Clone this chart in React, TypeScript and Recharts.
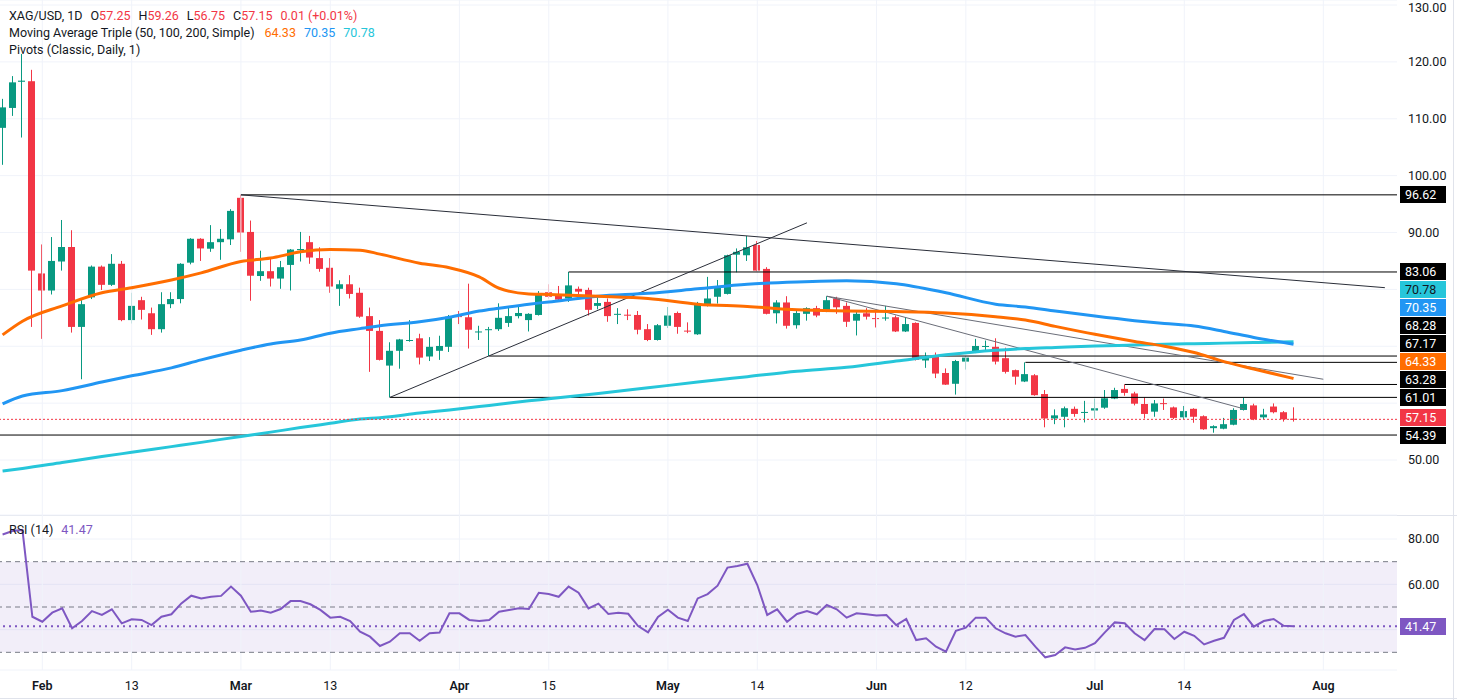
import React from 'react'
import {
  ComposedChart,
  Bar,
  Line,
  XAxis,
  YAxis,
  CartesianGrid,
  ReferenceLine,
  ReferenceArea,
} from 'recharts'

const FONT = 'Roboto, "Noto Sans", sans-serif'
const UP = '#089981'
const DOWN = '#f23645'
const TEXT = '#131722'
const GRID = '#f0f3fa'
const MA50_COLOR = '#ff6d00'
const MA100_COLOR = '#2196f3'
const MA200_COLOR = '#26c6da'
const RSI_COLOR = '#7e57c2'

// daily sessions, Jan 27 .. Jul 29
const OPEN = [
  108.4, 111.9, 116.5, 116.6, 82.8, 79.8, 84.9, 87.45, 73.4, 78.6,
  84.0, 80.8, 84.5, 74.6, 78.1, 75.8, 73.0, 77.4, 78.3, 84.7,
  88.9, 87.15, 88.3, 88.8, 96.1, 90.1, 82.35, 83.2, 81.9, 84.3,
  86.9, 88.3, 85.5, 83.8, 80.1, 80.9, 79.4, 75.3, 72.7, 66.6,
  69.2, 71.0, 71.4, 68.2, 69.2, 69.9, 75.3, 75.1, 72.5, 72.9,
  73.0, 74.1, 75.3, 74.6, 75.5, 79.5, 79.0, 78.4, 80.1, 79.9,
  77.1, 77.8, 75.6, 75.55, 75.5, 73.0, 71.1, 73.6, 75.85, 72.75,
  72.1, 77.2, 78.7, 79.2, 86.1, 86.0, 87.8, 83.6, 75.8, 77.7,
  73.7, 75.7, 76.7, 76.2, 78.4, 77.1, 74.5, 75.8, 74.95, 74.9,
  75.1, 72.6, 74.1, 67.5, 68.3, 65.3, 63.4, 67.3, 69.05, 69.95,
  69.9, 67.9, 65.8, 63.8, 64.9, 61.6, 57.3, 57.6, 59.0, 58.3,
  58.7, 59.2, 60.8, 62.5, 61.7, 59.85, 58.5, 60.0, 59.25, 57.5,
  59.0, 57.7, 55.6, 55.5, 56.2, 58.8, 59.6, 57.5, 59.4, 58.4,
  57.25,
]
const HIGH = [
  113.5, 117.5, 121.4, 118.6, 87.9, 89.2, 92.2, 90.4, 78.1, 84.2,
  84.2, 86.2, 85.0, 79.4, 78.7, 76.8, 79.5, 79.5, 84.6, 89.0,
  89.0, 91.3, 90.6, 94.1, 96.62, 92.1, 86.8, 85.5, 85.0, 87.1,
  90.1, 89.4, 87.4, 85.5, 81.6, 82.5, 80.3, 76.8, 74.6, 70.7,
  71.3, 74.6, 72.2, 71.6, 71.85, 75.5, 76.2, 81.0, 73.6, 73.4,
  77.55, 76.9, 77.0, 75.8, 79.7, 80.9, 80.6, 83.06, 80.5, 80.3,
  78.6, 78.4, 76.7, 76.5, 76.2, 73.9, 73.9, 76.9, 76.1, 74.2,
  77.8, 82.2, 81.65, 86.1, 87.2, 89.4, 88.5, 83.9, 78.1, 78.8,
  76.5, 76.85, 77.1, 78.8, 78.7, 77.7, 76.1, 76.7, 76.25, 77.1,
  75.4, 75.1, 74.2, 68.9, 68.9, 66.1, 67.6, 68.3, 71.3, 71.0,
  71.4, 69.75, 65.9, 67.17, 65.1, 62.3, 58.9, 59.4, 59.4, 60.4,
  60.8, 62.3, 62.7, 63.28, 62.0, 61.0, 60.55, 60.8, 59.4, 59.5,
  59.1, 57.85, 56.1, 57.4, 59.1, 60.9, 59.9, 59.0, 59.95, 58.6,
  59.26,
]
const LOW = [
  101.9, 110.5, 106.7, 73.4, 71.3, 79.1, 83.3, 72.4, 64.2, 78.3,
  79.9, 80.6, 74.4, 74.0, 74.7, 72.0, 72.4, 76.7, 77.55, 84.4,
  85.0, 86.6, 85.2, 87.8, 86.6, 78.0, 81.5, 80.5, 80.1, 79.8,
  84.9, 84.5, 83.1, 79.4, 77.1, 78.4, 75.0, 65.5, 67.5, 61.01,
  66.05, 70.8, 66.8, 67.4, 67.6, 69.0, 73.9, 69.6, 71.1, 68.28,
  72.7, 73.4, 74.9, 72.6, 75.4, 78.4, 78.1, 77.8, 79.1, 75.4,
  76.5, 74.3, 73.9, 74.6, 72.1, 70.9, 71.0, 73.2, 72.2, 72.3,
  72.0, 77.0, 77.5, 79.1, 83.0, 85.0, 83.2, 75.6, 74.0, 73.1,
  73.1, 74.5, 75.1, 76.0, 75.7, 73.4, 71.9, 74.7, 73.3, 74.5,
  72.5, 72.5, 67.5, 66.2, 64.4, 63.2, 61.5, 65.9, 68.8, 69.2,
  66.8, 65.2, 63.25, 63.7, 61.3, 55.75, 56.3, 55.75, 57.6, 56.6,
  57.3, 59.0, 60.7, 61.3, 59.6, 57.3, 57.6, 58.8, 57.2, 57.15,
  56.55, 55.3, 54.8, 55.4, 56.1, 58.7, 57.0, 57.15, 58.2, 56.75,
  56.75,
]
const CLOSE = [
  112.0, 116.4, 116.7, 83.3, 79.8, 85.0, 87.45, 73.4, 77.4, 84.0,
  80.8, 84.5, 74.6, 77.1, 76.4, 73.0, 77.4, 78.3, 84.5, 88.9,
  87.2, 88.3, 88.9, 93.8, 90.0, 82.4, 83.2, 81.9, 83.9, 87.0,
  87.1, 85.6, 83.6, 80.5, 80.9, 79.2, 75.2, 72.7, 67.6, 69.2,
  71.2, 71.1, 68.0, 69.9, 70.05, 75.2, 75.2, 72.9, 72.6, 73.0,
  75.0, 75.3, 75.85, 75.7, 79.2, 78.7, 78.2, 80.7, 79.6, 76.4,
  77.6, 75.3, 75.7, 75.45, 72.9, 71.1, 73.7, 75.4, 73.4, 72.65,
  77.55, 78.4, 80.5, 86.0, 86.6, 87.4, 83.3, 75.7, 77.7, 73.6,
  75.85, 76.7, 75.4, 78.1, 76.85, 74.3, 75.7, 75.2, 74.85, 75.05,
  72.6, 73.9, 67.6, 68.2, 65.2, 63.25, 67.4, 68.0, 70.05, 70.05,
  67.3, 65.5, 64.65, 65.1, 61.4, 57.3, 57.85, 59.1, 58.1, 58.45,
  59.1, 60.85, 62.3, 61.8, 59.9, 58.1, 59.95, 59.9, 57.4, 58.6,
  57.6, 55.4, 55.95, 56.3, 58.8, 59.85, 57.15, 58.0, 58.4, 57.14,
  57.15,
]
const RSI = [
  82.0, 83.5, 84.0, 45.7, 43.5, 47.5, 49.4, 40.6, 43.8, 48.2,
  46.5, 49.0, 42.8, 44.6, 44.3, 42.0, 45.7, 46.8, 51.6, 55.0,
  53.8, 54.5, 54.9, 59.0, 55.0, 47.9, 48.4, 47.5, 49.1, 52.6,
  52.6, 51.2, 48.7, 45.3, 45.7, 43.8, 39.1, 36.9, 32.8, 34.7,
  38.4, 38.4, 35.1, 38.4, 38.7, 47.2, 47.2, 44.3, 43.8, 44.3,
  47.9, 48.7, 49.4, 49.1, 56.3, 55.7, 54.5, 59.0, 56.3, 49.4,
  51.5, 46.9, 47.5, 47.0, 41.6, 38.8, 45.6, 48.8, 45.3, 43.8,
  53.8, 55.7, 59.4, 67.4, 68.1, 69.1, 59.7, 46.5, 49.0, 43.5,
  46.9, 48.2, 46.8, 50.9, 49.0, 45.3, 47.2, 46.8, 46.2, 46.5,
  42.0, 44.7, 35.4, 36.2, 32.5, 30.3, 39.5, 40.9, 45.3, 45.3,
  40.6, 38.4, 36.9, 37.6, 32.5, 27.8, 28.8, 32.2, 31.3, 32.0,
  34.0, 38.8, 43.2, 42.8, 38.4, 35.4, 40.3, 40.2, 35.9, 39.1,
  37.3, 33.5, 35.1, 36.4, 44.3, 46.9, 41.3, 43.8, 44.7, 41.7,
  41.47,
]

// moving averages, sampled at these sessions
const MA_AT = [
  0, 2, 6, 10, 13, 17, 20, 24, 27, 30, 33, 36, 38, 42, 45, 48, 50, 53, 55,
  60, 65, 70, 75, 80, 85, 90, 95, 100, 103, 106, 110, 114, 117, 120, 123, 126, 130,
]
const MA50 = [
  72.0, 74.4, 77.1, 79.4, 80.3, 81.65, 82.9, 84.9, 85.5, 86.6, 87.0, 86.9, 86.2,
  84.6, 83.8, 82.2, 80.2, 79.2, 79.1, 78.8, 78.4, 77.4, 77.0, 76.4, 76.2, 76.1,
  75.85, 75.2, 74.6, 73.5, 72.1, 70.85, 70.0, 68.9, 67.3, 66.0, 64.33,
]
const MA100 = [
  59.85, 61.25, 62.2, 63.7, 64.8, 66.2, 67.6, 69.3, 70.4, 71.1, 72.3, 73.1, 73.6,
  74.3, 75.1, 76.2, 76.7, 77.4, 77.8, 78.8, 79.3, 80.1, 80.9, 81.3, 81.5, 81.0,
  79.4, 77.4, 76.9, 76.2, 75.3, 74.5, 74.0, 73.55, 72.6, 71.55, 70.35,
]
const MA200 = [
  48.05, 48.5, 49.55, 50.6, 51.35, 52.35, 53.1, 54.15, 54.9, 55.7, 56.45, 57.2,
  57.45, 58.25, 58.8, 59.4, 59.8, 60.4, 60.75, 61.7, 62.7, 63.7, 64.65, 65.6,
  66.3, 67.4, 68.5, 69.3, 69.6, 69.8, 70.05, 70.2, 70.35, 70.45, 70.55, 70.65,
  70.78,
]

const TICK_IDX = [4, 13, 24, 33, 46, 55, 67, 76, 88, 97, 110, 119, 133]
const TICK_LABELS = ['Feb', '13', 'Mar', '13', 'Apr', '15', 'May', '14', 'Jun', '12', 'Jul', '14', 'Aug']
const MONTHS = ['Feb', 'Mar', 'Apr', 'May', 'Jun', 'Jul', 'Aug']

const PRICE_TICKS = [50, 60, 70, 80, 90, 100, 110, 120, 130]
// these scale labels sit under the price tags, so only their grid lines show
const PRICE_TICKS_COVERED = [60, 70, 80]
const RSI_TICKS = [40, 60, 80]

// swing levels drawn from the session that set them out to the right edge
const LEVELS = [
  { from: 24, price: 96.62 },
  { from: 57, price: 83.06 },
  { from: 49, price: 68.28 },
  { from: 103, price: 67.17 },
  { from: 113, price: 63.28 },
  { from: 39, price: 61.01 },
  { from: -1, price: 54.39 },
]
// trend lines: start index/price to end index/price
const TRENDS = [
  { x1: 24, y1: 96.62, x2: 139.2, y2: 80.3, color: '#2a2e39' },
  { x1: 39, y1: 61.01, x2: 81, y2: 91.7, color: '#2a2e39' },
  { x1: 83, y1: 78.8, x2: 125, y2: 59.0, color: '#6a6d78' },
  { x1: 83, y1: 78.8, x2: 133, y2: 64.2, color: '#6a6d78' },
]

const LAST_PRICE = 57.15
const LAST_RSI = 41.47

const X_MIN = -0.26
const X_MAX = 140.42
const Y_MIN = 40.33
const Y_MAX = 130.88
const RSI_MIN = 22.2
const RSI_MAX = 90.6

const W = 1457
const MAIN_H = 515
const RSI_H = 185
const AXIS_W = 60

type Row = {
  i: number
  open: number
  high: number
  low: number
  close: number
  range: [number, number]
  rsi: number
}

const rows: Row[] = OPEN.map((o, i) => ({
  i,
  open: o,
  high: HIGH[i],
  low: LOW[i],
  close: CLOSE[i],
  range: [LOW[i], HIGH[i]],
  rsi: RSI[i],
}))

const maRows = MA_AT.map((i, k) => ({ i, ma50: MA50[k], ma100: MA100[k], ma200: MA200[k] }))

function Candle(props: any) {
  const { x, y, width, height, payload } = props
  if (!payload || height == null) return null
  const { open, close, high, low } = payload
  const top = Math.min(y, y + height)
  const h = Math.abs(height)
  const k = h / (high - low)
  const py = (v: number) => top + (high - v) * k
  const color = close >= open ? UP : DOWN
  const bodyW = 7
  const left = Math.round(x + width / 2 - bodyW / 2)
  const cx = left + bodyW / 2
  const bTop = py(Math.max(open, close))
  const bBot = py(Math.min(open, close))
  return (
    <g>
      <line x1={cx} x2={cx} y1={top} y2={top + h} stroke={color} strokeWidth={1} />
      <rect x={left} y={bTop} width={bodyW} height={Math.max(1, bBot - bTop)} fill={color} />
    </g>
  )
}

function TimeTick(props: any) {
  const { x, y, payload } = props
  const k = TICK_IDX.indexOf(payload.value)
  const label = k >= 0 ? TICK_LABELS[k] : ''
  const bold = MONTHS.includes(label)
  return (
    <text
      x={x}
      y={y}
      dy="0.71em"
      textAnchor="middle"
      fill={TEXT}
      fontSize={12.5}
      fontWeight={bold ? 600 : 400}
      fontFamily={FONT}
    >
      {label}
    </text>
  )
}

// price tags on the right scale, pushed apart so they don't overlap
const TAGS = [
  { v: 96.62, bg: '#000000', fg: '#ffffff' },
  { v: 83.06, bg: '#000000', fg: '#ffffff' },
  { v: 70.78, bg: MA200_COLOR, fg: TEXT },
  { v: 70.35, bg: MA100_COLOR, fg: '#ffffff' },
  { v: 68.28, bg: '#000000', fg: '#ffffff' },
  { v: 67.17, bg: '#000000', fg: '#ffffff' },
  { v: 64.33, bg: MA50_COLOR, fg: '#ffffff' },
  { v: 63.28, bg: '#000000', fg: '#ffffff' },
  { v: 61.01, bg: '#000000', fg: '#ffffff' },
  { v: 57.15, bg: DOWN, fg: '#ffffff' },
  { v: 54.39, bg: '#000000', fg: '#ffffff' },
]

function stackTags() {
  const step = 18
  const out: { v: number; bg: string; fg: string; y: number }[] = []
  let prev = Infinity
  for (let k = TAGS.length - 1; k >= 0; k--) {
    const t = TAGS[k]
    const actual = ((Y_MAX - t.v) / (Y_MAX - Y_MIN)) * MAIN_H
    const y = Math.min(actual, prev - step)
    prev = y
    out.push({ ...t, y })
  }
  return out
}

function Tag({ top, bg, fg, text }: { top: number; bg: string; fg: string; text: string }) {
  return (
    <div
      style={{
        position: 'absolute',
        left: W - AXIS_W + 3,
        top: top - 8.5,
        width: 46,
        height: 17,
        lineHeight: '17px',
        background: bg,
        color: fg,
        fontSize: 12.5,
        paddingLeft: 5,
        boxSizing: 'border-box',
      }}
    >
      {text}
    </div>
  )
}

const legendRow: React.CSSProperties = {
  position: 'absolute',
  left: 9,
  fontSize: 12.5,
  lineHeight: '16px',
  color: TEXT,
  whiteSpace: 'nowrap',
}

export default function App() {
  const tags = stackTags()
  const rsiTagTop = RSI_H - 30 - ((LAST_RSI - RSI_MIN) / (RSI_MAX - RSI_MIN)) * (RSI_H - 30)

  return (
    <div style={{ position: 'relative', width: W, height: MAIN_H + RSI_H, background: '#fff', fontFamily: FONT }}>
      <style>{'body{margin:0}'}</style>

      <ComposedChart width={W} height={MAIN_H} data={rows} margin={{ top: 0, right: 0, bottom: 0, left: 0 }}>
        <CartesianGrid vertical={false} stroke={GRID} />
        {TICK_IDX.map((t) => (
          <ReferenceLine key={`vg-${t}`} x={t} stroke={GRID} />
        ))}
        <XAxis type="number" dataKey="i" domain={[X_MIN, X_MAX]} ticks={TICK_IDX} allowDataOverflow hide />
        <YAxis
          orientation="right"
          width={AXIS_W}
          domain={[Y_MIN, Y_MAX]}
          ticks={PRICE_TICKS}
          allowDataOverflow
          axisLine={false}
          tickLine={false}
          tickMargin={5}
          tick={{ fill: TEXT, fontSize: 12.5, fontFamily: FONT }}
          tickFormatter={(v: number) => (PRICE_TICKS_COVERED.includes(v) ? '' : v.toFixed(2))}
        />
        {LEVELS.map((l) => (
          <ReferenceLine
            key={`lv-${l.price}`}
            segment={[
              { x: Math.max(l.from, X_MIN), y: l.price },
              { x: X_MAX, y: l.price },
            ]}
            stroke="#000"
            strokeWidth={1}
          />
        ))}
        {TRENDS.map((t, k) => (
          <ReferenceLine
            key={`tr-${k}`}
            segment={[
              { x: t.x1, y: t.y1 },
              { x: t.x2, y: t.y2 },
            ]}
            stroke={t.color}
            strokeWidth={1}
          />
        ))}
        <Line
          data={maRows}
          type="monotone"
          dataKey="ma200"
          stroke={MA200_COLOR}
          strokeWidth={3}
          dot={false}
          activeDot={false}
          isAnimationActive={false}
        />
        <Line
          data={maRows}
          type="monotone"
          dataKey="ma100"
          stroke={MA100_COLOR}
          strokeWidth={3}
          dot={false}
          activeDot={false}
          isAnimationActive={false}
        />
        <Line
          data={maRows}
          type="monotone"
          dataKey="ma50"
          stroke={MA50_COLOR}
          strokeWidth={3}
          dot={false}
          activeDot={false}
          isAnimationActive={false}
        />
        <Bar dataKey="range" barSize={7} shape={(p: any) => <Candle {...p} />} isAnimationActive={false} />
        <ReferenceLine y={LAST_PRICE} stroke={DOWN} strokeDasharray="2 2" strokeWidth={1} />
      </ComposedChart>

      <div style={{ position: 'absolute', left: 0, top: MAIN_H, width: W, height: 1, background: '#e0e3eb' }} />

      <ComposedChart width={W} height={RSI_H} data={rows} margin={{ top: 0, right: 0, bottom: 0, left: 0 }}>
        <ReferenceArea y1={30} y2={70} fill={RSI_COLOR} fillOpacity={0.1} stroke="none" />
        <CartesianGrid vertical={false} stroke={GRID} />
        {TICK_IDX.map((t) => (
          <ReferenceLine key={`rvg-${t}`} x={t} stroke={GRID} />
        ))}
        <XAxis
          type="number"
          dataKey="i"
          domain={[X_MIN, X_MAX]}
          ticks={TICK_IDX}
          allowDataOverflow
          axisLine={false}
          tickLine={false}
          tickMargin={5}
          height={30}
          tick={(p: any) => <TimeTick {...p} />}
        />
        <YAxis
          orientation="right"
          width={AXIS_W}
          domain={[RSI_MIN, RSI_MAX]}
          ticks={RSI_TICKS}
          allowDataOverflow
          axisLine={false}
          tickLine={false}
          tickMargin={5}
          tick={{ fill: TEXT, fontSize: 12.5, fontFamily: FONT }}
          tickFormatter={(v: number) => (v === 40 ? '' : v.toFixed(2))}
        />
        <ReferenceLine y={70} stroke="#787b86" strokeDasharray="5 4" />
        <ReferenceLine y={50} stroke="#787b86" strokeDasharray="5 4" />
        <ReferenceLine y={30} stroke="#787b86" strokeDasharray="5 4" />
        <ReferenceLine y={LAST_RSI} stroke={RSI_COLOR} strokeDasharray="2 4" strokeWidth={2} />
        <Line
          type="linear"
          dataKey="rsi"
          stroke={RSI_COLOR}
          strokeWidth={2}
          dot={false}
          activeDot={false}
          isAnimationActive={false}
        />
      </ComposedChart>

      <div style={{ position: 'absolute', right: 3, top: 0, width: 1, height: MAIN_H + RSI_H, background: '#e0e3eb' }} />
      <div style={{ position: 'absolute', left: 0, top: MAIN_H + RSI_H - 2, width: W, height: 1, background: '#e0e3eb' }} />

      <div style={{ ...legendRow, top: 8 }}>
        <span style={{ marginRight: 8 }}>XAG/USD, 1D</span>
        <span style={{ marginRight: 8 }}>
          O<span style={{ color: DOWN }}>57.25</span>
        </span>
        <span style={{ marginRight: 8 }}>
          H<span style={{ color: DOWN }}>59.26</span>
        </span>
        <span style={{ marginRight: 8 }}>
          L<span style={{ color: DOWN }}>56.75</span>
        </span>
        <span style={{ marginRight: 8 }}>
          C<span style={{ color: DOWN }}>57.15</span>
        </span>
        <span style={{ color: DOWN }}>0.01 (+0.01%)</span>
      </div>
      <div style={{ ...legendRow, top: 25 }}>
        <span style={{ marginRight: 10 }}>Moving Average Triple (50, 100, 200, Simple)</span>
        <span style={{ color: MA50_COLOR, marginRight: 8 }}>64.33</span>
        <span style={{ color: MA100_COLOR, marginRight: 8 }}>70.35</span>
        <span style={{ color: MA200_COLOR }}>70.78</span>
      </div>
      <div style={{ ...legendRow, top: 42 }}>Pivots (Classic, Daily, 1)</div>

      <div style={{ ...legendRow, top: MAIN_H + 7 }}>
        <span style={{ marginRight: 8 }}>RSI (14)</span>
        <span style={{ color: RSI_COLOR }}>41.47</span>
      </div>

      {tags.map((t) => (
        <Tag key={`tag-${t.v}`} top={t.y} bg={t.bg} fg={t.fg} text={t.v.toFixed(2)} />
      ))}
      <Tag top={MAIN_H + rsiTagTop} bg={RSI_COLOR} fg="#ffffff" text={LAST_RSI.toFixed(2)} />
    </div>
  )
}
